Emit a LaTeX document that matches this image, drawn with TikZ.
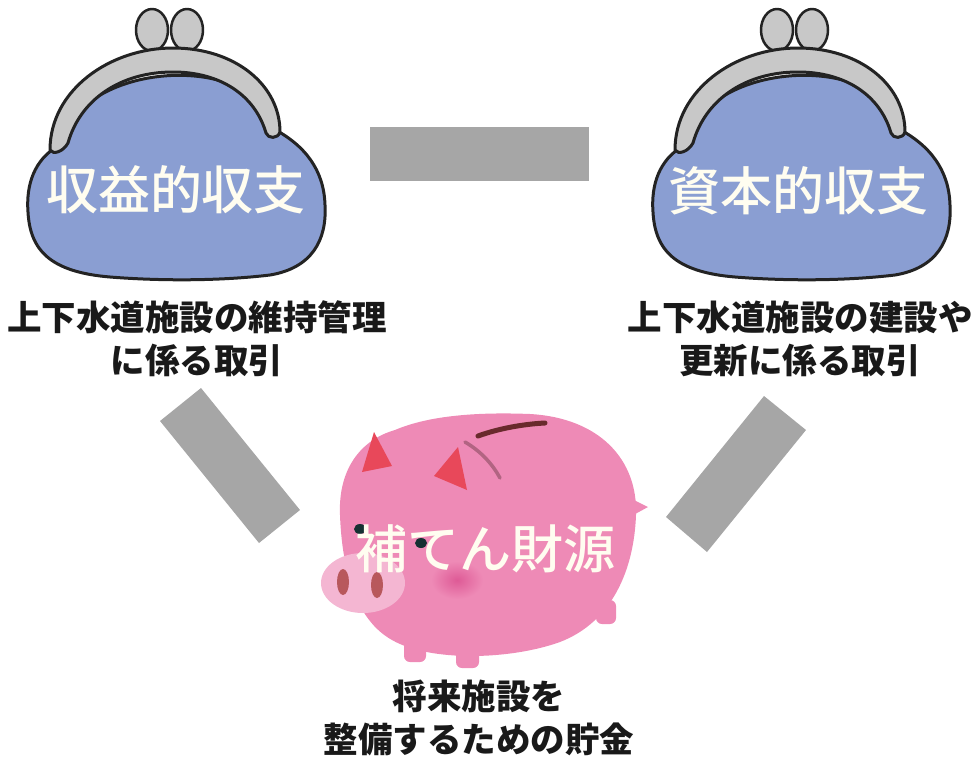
\documentclass[tikz,border=0pt]{standalone}
\usepackage{fontspec}
\setmainfont{Noto Sans CJK JP}
\newfontfamily\titlefont{Noto Sans CJK JP Medium}
\usetikzlibrary{calc}

\begin{document}
\begin{tikzpicture}[x=1pt, y=-1pt]

%my colors
\definecolor{purseblue}{RGB}{138, 158, 210}
\definecolor{framegray}{RGB}{200, 200, 200}
\definecolor{inkline}{RGB}{35, 35, 35}
\definecolor{bargray}{RGB}{166, 166, 166}
\definecolor{pigpink}{RGB}{238, 138, 182}
\definecolor{snoutpink}{RGB}{244, 182, 210}
\definecolor{cheekpink}{RGB}{222, 90, 150}
\definecolor{earred}{RGB}{232, 72, 90}
\definecolor{nostril}{RGB}{184, 88, 92}
\definecolor{slotbrown}{RGB}{105, 42, 45}
\definecolor{slotmauve}{RGB}{178, 100, 130}
\definecolor{eyedark}{RGB}{22, 48, 50}
\definecolor{creamwhite}{RGB}{255, 253, 240}

\tikzset{
    outline/.style={draw=inkline, line width=3pt, line join=round},
    bar/.style={fill=bargray},
    titletext/.style={text=creamwhite, font=\titlefont\fontsize{52}{60}\selectfont, inner sep=0pt},
    labeltext/.style={text=black!90, font=\bfseries\fontsize{34.5}{43}\selectfont, align=center, inner sep=0pt}
}

    % fixed page size
    \useasboundingbox (0,0) rectangle (978,756);

    % purse drawn with the clasp at the top
    \def\drawPurse{
        % clasps
        \filldraw[outline, line width=2.5pt, fill=framegray] (152,30) ellipse (16 and 21);
        \filldraw[outline, line width=2.5pt, fill=framegray] (187,30) ellipse (16 and 21);
        % pouch
        \filldraw[outline, fill=purseblue] (58,146)
            .. controls (34,160) and (26,185) .. (28,212)
            .. controls (30,250) and (50,272) .. (110,277)
            .. controls (160,281) and (220,281) .. (270,275)
            .. controls (312,268) and (327,240) .. (325,205)
            .. controls (324,170) and (305,145) .. (272,128)
            .. controls (262,55) and (84,55) .. cycle;
        % metal frame
        \filldraw[outline, fill=framegray] (50,150)
            .. controls (50,90) and (110,48) .. (173,48)
            .. controls (235,48) and (280,85) .. (280,132)
            .. controls (278,139) and (268,139) .. (266,133)
            .. controls (255,95) and (220,72) .. (173,72)
            .. controls (120,72) and (80,100) .. (68,143)
            .. controls (63,152) and (53,155) .. cycle;
    }

    % Left purse
    \drawPurse
    % Right purse, same drawing moved over
    \begin{scope}[xshift=625pt]
        \drawPurse
    \end{scope}

    % Bars between the three pictures
    \coordinate (topA) at (370,127);
    \coordinate (topB) at (589,181);
    \fill[bar] (topA) rectangle (topB);
    \fill[bar] (160,421) -- (201,388) -- (300,510) -- (259,543) -- cycle;
    \fill[bar] (764,396) -- (806,430) -- (707,552) -- (666,517) -- cycle;

    % Piggy bank: legs and tail first
    \fill[pigpink, rounded corners=6pt] (404,630) rectangle (426,662);
    \fill[pigpink, rounded corners=6pt] (456,635) rectangle (479,668);
    \fill[pigpink, rounded corners=6pt] (596,600) rectangle (616,624);
    \fill[pigpink] (626,496) -- (648,507) -- (626,519) -- cycle;

    % body
    \fill[pigpink] (340,515)
        .. controls (338,470) and (360,440) .. (395,430)
        .. controls (430,415) and (480,412) .. (530,414)
        .. controls (600,418) and (638,460) .. (636,515)
        .. controls (634,570) and (612,622) .. (560,642)
        .. controls (510,660) and (430,662) .. (392,640)
        .. controls (356,620) and (342,570) .. cycle;

    % ears
    \fill[earred] (362,472) -- (374,432) -- (392,466) -- cycle;
    \fill[earred] (434,476) -- (458,447) -- (467,490) -- cycle;

    % coin slot
    \draw[slotbrown, line width=5pt, line cap=round] (478,436) .. controls (500,428) and (525,424) .. (545,423);
    \draw[slotmauve, line width=3.5pt, line cap=round] (465,442) .. controls (482,452) and (493,465) .. (500,478);

    % eyes, cheek and snout
    \fill[eyedark] (360,529) ellipse (6 and 5);
    \fill[eyedark] (421,543) ellipse (6 and 5);
    \shade[inner color=cheekpink, outer color=pigpink] (457,580) ellipse (26 and 19);
    \fill[snoutpink] (363,583) ellipse (42 and 30);
    \fill[nostril] (343,582) ellipse (6 and 13);
    \fill[nostril] (377,585) ellipse (6 and 13);

    % Titles on the pictures
    \node[titletext] (revenue) at (176,190) {収益的収支};
    \node[titletext] (capital) at (798,191) {資本的収支};
    \node[titletext] (reserve) at (485,549) {補てん財源};

    % Notes under the pictures
    \node[labeltext] (revenueNote) at (197,339) {上下水道施設の維持管理\\に係る取引};
    \node[labeltext] (capitalNote) at (800,339) {上下水道施設の建設や\\更新に係る取引};
    \node[labeltext] (reserveNote) at (479,718) {将来施設を\\整備するための貯金};

\end{tikzpicture}
\end{document}
